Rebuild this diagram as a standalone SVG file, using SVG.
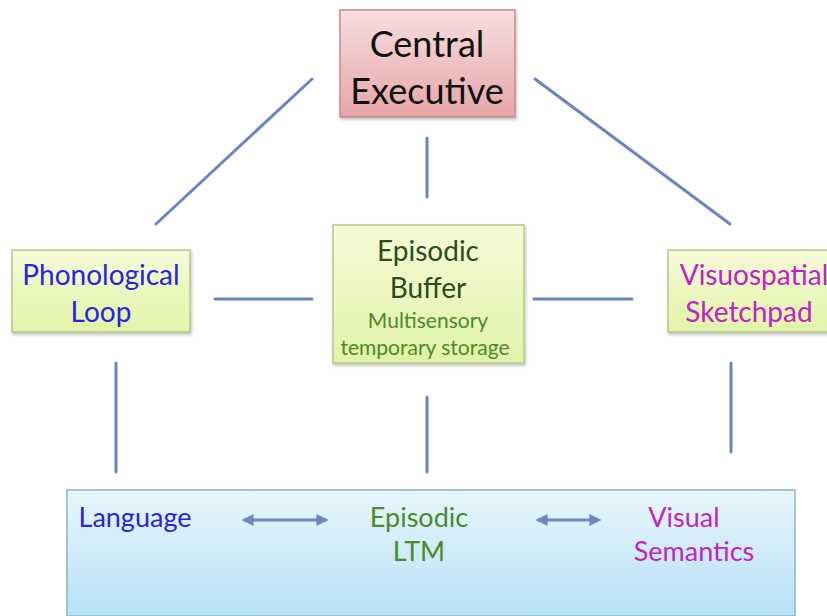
<svg xmlns="http://www.w3.org/2000/svg" width="827" height="616" viewBox="0 0 827 616">
<style>
text{font-family:Lato,"Open Sans","Liberation Sans",sans-serif;text-anchor:middle}
.conn{stroke:#6c84c4;stroke-width:3;stroke-linecap:round;fill:none}
.arr{stroke:#6f87bb;stroke-width:3;fill:none}
.green{fill:url(#gGreen);stroke:#b5c98a;stroke-width:1.5}
.big{font-size:36px;fill:#111}
.mid{font-size:28px}
.bot{font-size:27px}
.small{font-size:21px;fill:#4c8a2a}
.blue{fill:#2626e0}
.mag{fill:#c024c4}
.dgreen{fill:#2e4d1c}
.lgreen{fill:#4c8a2a}
</style>
<defs>
<linearGradient id="gPink" x1="0" y1="0" x2="0" y2="1">
<stop offset="0" stop-color="#f7dede"/>
<stop offset="1" stop-color="#e6a6a8"/>
</linearGradient>
<linearGradient id="gGreen" x1="0" y1="0" x2="0" y2="1">
<stop offset="0" stop-color="#f6fbd8"/>
<stop offset="1" stop-color="#e2f3a8"/>
</linearGradient>
<linearGradient id="gBlue" x1="0" y1="0" x2="0" y2="1">
<stop offset="0" stop-color="#e8f6fc"/>
<stop offset="1" stop-color="#b6e1f6"/>
</linearGradient>
<filter id="sh" x="-10%" y="-10%" width="125%" height="130%">
<feDropShadow dx="1" dy="2" stdDeviation="1.5" flood-color="#000" flood-opacity="0.25"/>
</filter>
<marker id="ah" viewBox="0 0 10 10" refX="8" refY="5" markerWidth="4" markerHeight="4" orient="auto-start-reverse">
<path d="M0,0 L10,5 L0,10 z" fill="#6f87bb"/>
</marker>
</defs>

<g id="connectors">
<line class="conn" x1="312" y1="79" x2="156" y2="224"/>
<line class="conn" x1="535" y1="79" x2="730" y2="224"/>
<line class="conn" x1="427" y1="138" x2="427" y2="197"/>
<line class="conn" x1="215" y1="299" x2="312" y2="299"/>
<line class="conn" x1="534" y1="299" x2="632" y2="299"/>
<line class="conn" x1="116" y1="363" x2="116" y2="472"/>
<line class="conn" x1="427" y1="397" x2="427" y2="472"/>
<line class="conn" x1="731" y1="363" x2="731" y2="452"/>
</g>

<g id="central-executive">
<rect x="340" y="10" width="175" height="107" fill="url(#gPink)" stroke="#c98a8c" stroke-width="1.5" filter="url(#sh)"/>
<text class="big" x="427" y="57">Central</text>
<text class="big" x="427" y="104">Executive</text>
</g>

<g id="phonological-loop">
<rect class="green" x="12" y="250" width="178" height="82" filter="url(#sh)"/>
<text class="mid blue" x="101" y="285">Phonological</text>
<text class="mid blue" x="101" y="322">Loop</text>
</g>

<g id="episodic-buffer">
<rect class="green" x="333" y="225" width="191" height="138" filter="url(#sh)"/>
<text class="mid dgreen" x="428" y="261">Episodic</text>
<text class="mid dgreen" x="428" y="298">Buffer</text>
<text class="small" x="428" y="328">Multisensory</text>
<text class="small" x="425" y="355">temporary storage</text>
</g>

<g id="visuospatial-sketchpad">
<rect class="green" x="668" y="250" width="175" height="82" filter="url(#sh)"/>
<text class="mid mag" x="754" y="285">Visuospatial</text>
<text class="mid mag" x="749" y="322">Sketchpad</text>
</g>

<g id="ltm">
<rect x="67" y="490" width="728" height="126" fill="url(#gBlue)" stroke="#8fb3c8" stroke-width="1.5"/>
<text class="bot blue" x="135" y="527">Language</text>
<text class="bot lgreen" x="419" y="527">Episodic</text>
<text class="bot lgreen" x="419" y="561">LTM</text>
<text class="bot mag" x="684" y="527">Visual</text>
<text class="bot mag" x="694" y="561">Semantics</text>
<line class="arr" x1="244" y1="520" x2="326" y2="520" marker-start="url(#ah)" marker-end="url(#ah)"/>
<line class="arr" x1="538" y1="520" x2="599" y2="520" marker-start="url(#ah)" marker-end="url(#ah)"/>
</g>
</svg>
